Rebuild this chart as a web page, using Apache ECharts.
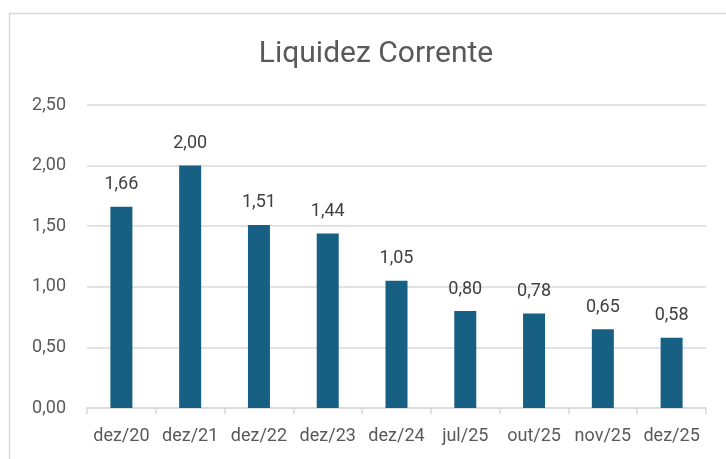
<!DOCTYPE html>
<html>
<head>
    <meta charset="UTF-8">
    <title>Liquidez Corrente</title>
    <script src="https://cdn.jsdelivr.net/npm/echarts@6/dist/echarts.min.js"></script>
    <style>body{margin:0;background:#fff;}</style>
</head>
<body>
    <div id="main" style="width: 726px;height:459px;"></div>
    <script type="text/javascript">
        // dados do gráfico
        var categorias = ['dez/20', 'dez/21', 'dez/22', 'dez/23', 'dez/24', 'jul/25', 'out/25', 'nov/25', 'dez/25'];
        var valores = [1.66, 2.00, 1.51, 1.44, 1.05, 0.80, 0.78, 0.65, 0.58];
        var yTicks = [0, 0.5, 1, 1.5, 2, 2.5];

        var fonte = '"Roboto", sans-serif';
        function virgula(v) { return v.toFixed(2).replace('.', ','); }

        var myChart = echarts.init(document.getElementById('main'));
        var option = {
            backgroundColor: '#fff',
            animation: false,
            graphic: [{
                type: 'rect',
                shape: { x: 9.5, y: 13.5, width: 730, height: 460 },
                style: { fill: 'none', stroke: '#d9d9d9', lineWidth: 1.5 }
            }],
            title: {
                text: 'Liquidez Corrente',
                left: 371, top: 34,
                textAlign: 'center',
                textStyle: { fontFamily: fonte, fontSize: 30, fontWeight: 'normal', color: '#595959' }
            },
            grid: { left: 87, right: 20, top: 105, bottom: 51, containLabel: false },
            xAxis: {
                type: 'category',
                data: categorias,
                axisLine: { lineStyle: { color: '#d9d9d9', width: 1.5 } },
                axisTick: { show: true, length: 6, lineStyle: { color: '#d9d9d9', width: 1.5 } },
                axisLabel: { interval: 0, fontFamily: fonte, fontSize: 18, color: '#595959', margin: 19 }
            },
            yAxis: {
                type: 'value',
                min: yTicks[0], max: yTicks[yTicks.length - 1], interval: 0.5,
                axisLine: { show: false },
                axisTick: { show: false },
                splitLine: { lineStyle: { color: '#d9d9d9', width: 1.5 } },
                axisLabel: { fontFamily: fonte, fontSize: 18, color: '#595959', margin: 21, formatter: virgula }
            },
            series: [{
                type: 'bar',
                data: valores,
                barWidth: 22,
                itemStyle: { color: '#175f83' },
                label: {
                    show: true, position: 'top', distance: 13,
                    fontFamily: fonte, fontSize: 18, color: '#404040',
                    formatter: function (p) { return virgula(p.value); }
                }
            }]
        };
        myChart.setOption(option);
    </script>
</body>
</html>
